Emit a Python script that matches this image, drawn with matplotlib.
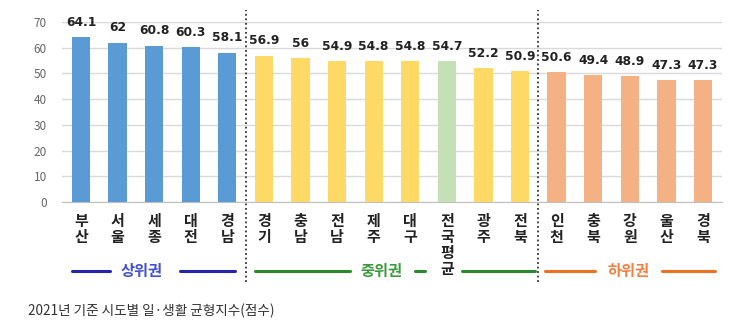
import matplotlib
matplotlib.use("Agg")
import matplotlib.pyplot as plt
import matplotlib.transforms as mtransforms

plt.rcParams['font.family'] = ['Noto Sans CJK KR', 'DejaVu Sans']

categories = ["부산", "서울", "세종", "대전", "경남",
              "경기", "충남", "전남", "제주", "대구", "전국평균", "광주", "전북",
              "인천", "충북", "강원", "울산", "경북"]
values = [64.1, 62, 60.8, 60.3, 58.1,
          56.9, 56, 54.9, 54.8, 54.8, 54.7, 52.2, 50.9,
          50.6, 49.4, 48.9, 47.3, 47.3]
groups = ["상위", "상위", "상위", "상위", "상위",
          "중위", "중위", "중위", "중위", "중위", "평균", "중위", "중위",
          "하위", "하위", "하위", "하위", "하위"]
value_labels = ["64.1", "62", "60.8", "60.3", "58.1",
                "56.9", "56", "54.9", "54.8", "54.8", "54.7", "52.2", "50.9",
                "50.6", "49.4", "48.9", "47.3", "47.3"]
yticks = [0, 10, 20, 30, 40, 50, 60, 70]
caption = "2021년 기준 시도별 일·생활 균형지수(점수)"

colors = {"상위": "#5B9BD5", "중위": "#FFD966", "평균": "#C5E0B4", "하위": "#F4B183"}

fig = plt.figure(figsize=(7.43, 3.30), dpi=100)
ax = fig.add_axes([0.0834, 0.388, 0.8883, 0.545])

x = list(range(len(categories)))
ax.bar(x, values, width=0.5, color=[colors[g] for g in groups], zorder=3)

for xi, v, lab in zip(x, values, value_labels):
    ax.annotate(lab, (xi, v), xytext=(0, 6), textcoords="offset points",
                ha="center", va="bottom", fontsize=8.8, fontweight="bold",
                color="#222222", family=['DejaVu Sans'])

ax.set_xlim(-0.52, 17.52)
ax.set_ylim(0, 70)
ax.set_yticks(yticks)
ax.set_yticklabels([str(t) for t in yticks], fontsize=8.5, color="#666666")
ax.yaxis.grid(True, color="#D9D9D9", linewidth=1, zorder=0)
ax.tick_params(axis="y", length=0, pad=11)
ax.set_xticks(x)
ax.set_xticklabels(["\n".join(c) for c in categories], fontsize=10.8,
                   fontweight="bold", color="#222222", linespacing=1.0)
ax.tick_params(axis="x", length=0, pad=8)
for s in ["top", "right", "left"]:
    ax.spines[s].set_visible(False)
ax.spines["bottom"].set_color("#BFBFBF")

trans = mtransforms.blended_transform_factory(ax.transData, fig.transFigure)

# dotted separators
for xs in [4.5, 12.5]:
    ax.plot([xs, xs], [0.145, 0.97], transform=trans, color="#333333",
            linestyle=(0, (1, 1.5)), linewidth=1.3, clip_on=False, zorder=5)

gy = 0.178
group_specs = [
    ("상위권", "#4050D0", "#2424B0", 1.67, [(-0.25, 0.79), (2.70, 4.21)]),
    ("중위권", "#3C9A3C", "#2A8A2A", 8.22, [(4.75, 7.35), (9.13, 9.40), (10.41, 12.40)]),
    ("하위권", "#F08040", "#F07020", 14.97, [(12.68, 14.04), (15.87, 17.32)]),
]
for label, tcol, lcol, tx, segs in group_specs:
    ax.text(tx, gy, label, transform=trans, ha="center", va="center",
            fontsize=11, fontweight="bold", color=tcol, clip_on=False)
    for a, b in segs:
        ax.plot([a, b], [gy, gy], transform=trans, color=lcol, linewidth=2.2,
                clip_on=False, solid_capstyle="round")

fig.text(28 / 743, 1 - 311 / 330, caption, ha="left", va="center",
         fontsize=9.8, color="#333333")

fig.savefig("out.png", dpi=100, facecolor="white")
